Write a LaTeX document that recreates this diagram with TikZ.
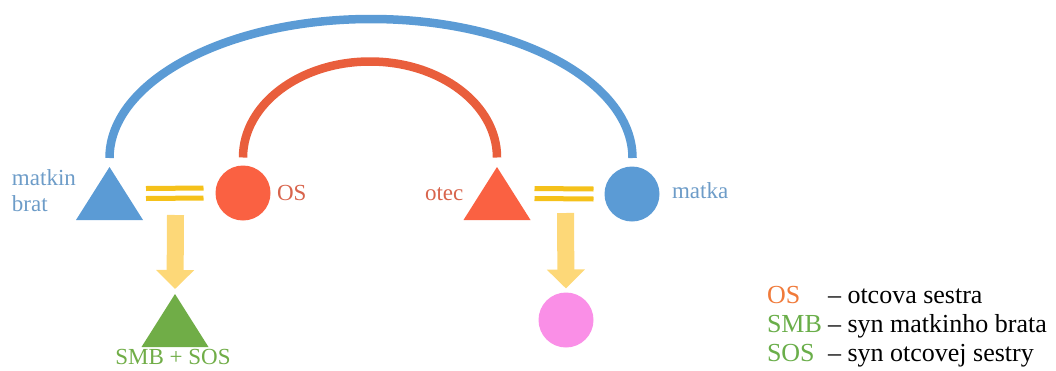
\documentclass[tikz,border=0pt]{standalone}
\usepackage{fontspec}
\setmainfont{Liberation Serif}
\newfontfamily\tnr{Liberation Serif}
\usetikzlibrary{arrows.meta,calc}
\definecolor{cblue}{HTML}{5B9BD5}
\definecolor{cred}{HTML}{FA6142}
\definecolor{carc}{HTML}{E95E3C}
\definecolor{cyel}{HTML}{F5C11A}
\definecolor{carrow}{HTML}{FDD878}
\definecolor{cgreen}{HTML}{70AD47}
\definecolor{cpink}{HTML}{FA8FE7}
\definecolor{lblue}{HTML}{6D9CC8}
\definecolor{lred}{HTML}{D8644C}
\definecolor{legor}{HTML}{F07A3A}
\definecolor{leggr}{HTML}{6AAE4A}
\begin{document}
\begin{tikzpicture}[x=1pt,y=-1pt,
  tri/.style={minimum width=67pt, minimum height=53pt, inner sep=0pt, outer sep=0pt,
    path picture={\fill[#1] (path picture bounding box.south west) -- (path picture bounding box.south east) -- (path picture bounding box.north) -- cycle;}},
  circ/.style={circle, minimum size=55pt, inner sep=0pt, outer sep=0pt, fill=#1},
  lbl/.style={inner sep=0pt, outer sep=0pt, font=\tnr\fontsize{23}{27}\selectfont, anchor=base west},
  leg/.style={inner sep=0pt, outer sep=0pt, font=\tnr\fontsize{26}{29}\selectfont, anchor=base west},
  arcline/.style={line width=8.5pt, draw=#1},
  yline/.style={line width=5pt, draw=cyel},
  yarrow/.style={line width=17pt, draw=carrow, -{Triangle[width=37pt,length=19pt]}}
]
\useasboundingbox (0,0) rectangle (1056,370);

% persons
\node[tri=cblue] (mb) at (109.5,193.5) {};
\node[circ=cred] (os) at (243,193) {};
\node[tri=cred] (ot) at (497,193.5) {};
\node[circ=cblue] (ma) at (632,194) {};
\node[tri=cgreen] (smb) at (175,320.5) {};
\node[circ=cpink] (sos) at (566,320) {};

% arcs (siblings)
\draw[arcline=cblue] ([yshift=9pt]mb.north) arc[start angle=180, end angle=0, x radius=261.5pt, y radius=139pt];
\draw[arcline=carc] ([yshift=8pt]os.north) arc[start angle=180, end angle=0, x radius=127pt, y radius=96pt];

% marriages
\draw[yline] ([xshift=3pt,yshift=5pt]mb.east) -- ([xshift=-12pt,yshift=5pt]os.west);
\draw[yline] ([xshift=3pt,yshift=-5pt]mb.east) -- ([xshift=-12pt,yshift=-5pt]os.west);
\draw[yline] ([xshift=4pt,yshift=5pt]ot.east) -- ([xshift=-11pt,yshift=5pt]ma.west);
\draw[yline] ([xshift=4pt,yshift=-5pt]ot.east) -- ([xshift=-11pt,yshift=-5pt]ma.west);

% descent arrows
\coordinate (c1) at (175.5,215);
\coordinate (c2) at (565.5,213);
\draw[yarrow, shorten >=5pt] (c1) -- (smb.north);
\draw[yarrow, shorten >=4pt] (c2) -- (sos.north);

% labels
\node[lbl, text=lblue] (l1) at (12,185) {matkin};
\node[lbl, text=lblue] (l2) at (12,211) {brat};
\node[lbl, text=lred] (l3) at (277,200) {OS};
\node[lbl, text=lred] (l4) at (425,200) {otec};
\node[lbl, text=lblue] (l5) at (672,198) {matka};
\node[lbl, text=cgreen, anchor=base] (l6) at (173,364) {SMB + SOS};

% legend
\node[leg, text=legor] (g1) at (767,303) {OS};
\node[leg] (g1t) at (828,303) {– otcova sestra};
\node[leg, text=leggr] (g2) at (767,332) {SMB};
\node[leg] (g2t) at (828,332) {– syn matkinho brata};
\node[leg, text=leggr] (g3) at (767,361) {SOS};
\node[leg] (g3t) at (828,361) {– syn otcovej sestry};
\end{tikzpicture}
\end{document}
